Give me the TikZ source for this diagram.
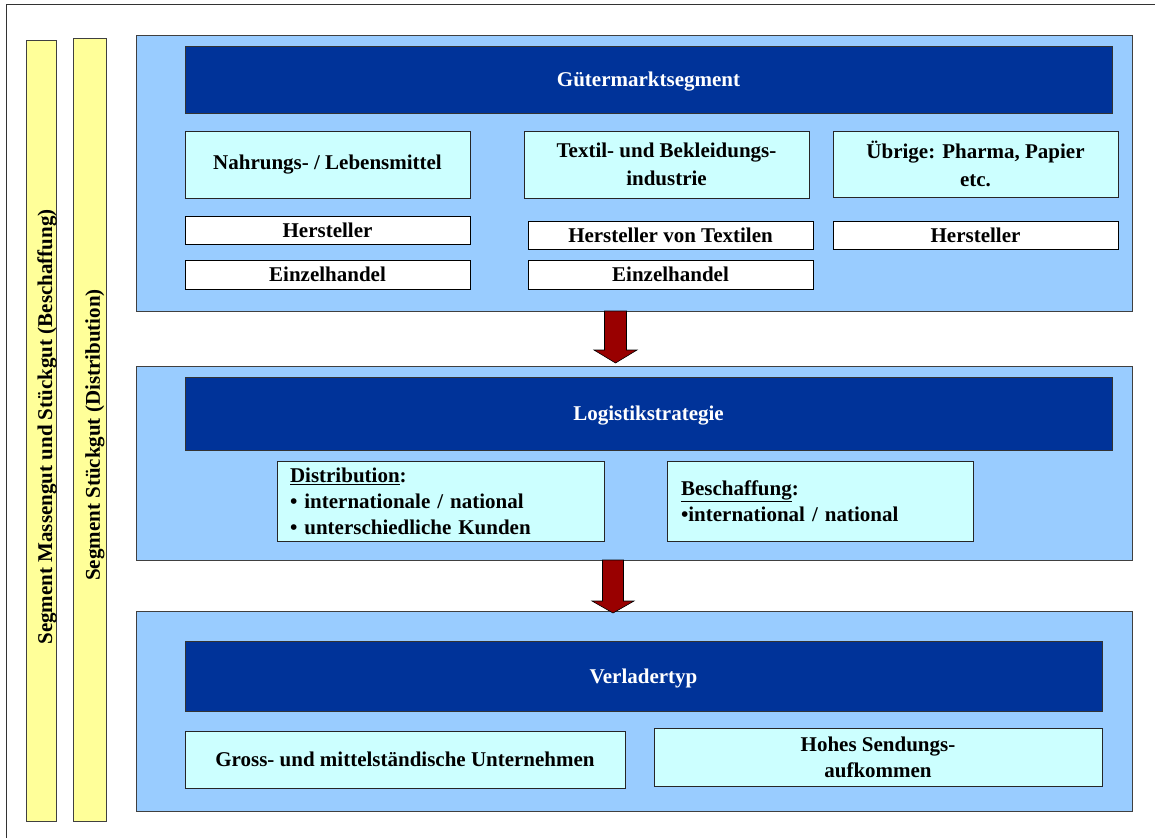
\documentclass[tikz,border=0pt]{standalone}
\usepackage{fontspec}
\setmainfont{Liberation Serif}
\usetikzlibrary{calc}
\definecolor{panelblue}{HTML}{99CCFF}
\definecolor{darkblue}{HTML}{003399}
\definecolor{lightcyan}{HTML}{CCFFFF}
\definecolor{baryellow}{HTML}{FFFF99}
\definecolor{arrowred}{HTML}{990000}
\begin{document}
\begin{tikzpicture}[x=1pt,y=-1pt,
  every node/.style={font=\fontsize{21}{26}\selectfont\bfseries, inner sep=0pt, outer sep=0pt},
  sz/.style 2 args={minimum width=#1pt, minimum height=#2pt},
  wide/.style={font=\fontsize{21}{28}\selectfont\bfseries},
  panel/.style={draw=black!75, line width=1pt, fill=panelblue},
  header/.style={draw=black!80, line width=1pt, fill=darkblue, text=white, text depth=0pt},
  catbox/.style={draw=black!85, line width=0.9pt, fill=lightcyan, align=center},
  whitebox/.style={draw=black, line width=0.9pt, fill=white},
  segbar/.style={draw=black!75, line width=1pt, fill=baryellow},
  arrowfill/.style={draw=black, line width=0.6pt, fill=arrowred, line join=miter}
]
\useasboundingbox (0,0) rectangle (1155,838);
% outer frame
\draw[line width=1pt, black!80] (6,838) -- (6,4) -- (1155,4);

% segment bars
\node[segbar, sz={30}{781}] (bar1) at (41,430.5) {};
\node[segbar, sz={33}{783}] (bar2) at (89.5,429.5) {};
\node[rotate=90] (bar1t) at (47,427) {Segment Massengut und Stückgut (Beschaffung)};
\node[rotate=90] (bar2t) at (95,435) {Segment Stückgut (Distribution)};

% panels
\node[panel, sz={996}{276}] (p1) at (634,173) {};
\node[panel, sz={996}{194}] (p2) at (634,463) {};
\node[panel, sz={996}{200}] (p3) at (634,711) {};

% panel 1
\node[header, sz={927}{67}] (h1) at (648.5,79.5) {Gütermarktsegment};
\node[catbox, sz={285}{67}] (c1) at (327.5,164.5) {Nahrungs- / Lebensmittel};
\node[catbox, wide, sz={285}{67}] (c2) at (666.5,164.5) {Textil- und Bekleidungs-\\industrie};
\node[catbox, wide, sz={285}{66}] (c3) at (975.5,164) {Übrige: Pharma, Papier\\etc.};
\node[whitebox, sz={285}{28}] (w1) at (327.5,230) {Hersteller};
\node[whitebox, sz={285}{29}] (w2) at (327.5,274.5) {Einzelhandel};
\node[whitebox, sz={285}{28}] (w3) at (670.5,235) {Hersteller von Textilen};
\node[whitebox, sz={285}{29}] (w4) at (670.5,274.5) {Einzelhandel};
\node[whitebox, sz={285}{28}] (w5) at (975.5,235) {Hersteller};

% panel 2
\node[header, sz={927}{73}] (h2) at (648.5,413.5) {Logistikstrategie};
\node[catbox, sz={327}{80}, align=left, text width=301pt, inner xsep=13pt] (dist) at (440.5,501)
  {\underline{Distribution}:\\• internationale / national\\• unterschiedliche Kunden};
\node[catbox, sz={306}{80}, align=left, text width=278pt, inner xsep=14pt] (besch) at (820,501)
  {\underline{Beschaffung}:\\•international / national};

% panel 3
\node[header, sz={917}{70}] (h3) at (643.5,676) {Verladertyp};
\node[catbox, sz={440}{57}] (g1) at (405,759.5) {Gross- und mittelständische Unternehmen};
\node[catbox, sz={448}{58}] (g2) at (878,757) {Hohes Sendungs-\\aufkommen};

% block arrows
\coordinate (a1s) at ($(p1.south)+(-18.5,0)$);
\coordinate (a1t) at ($(p2.north)+(-18.5,-3)$);
\coordinate (a2s) at ($(p2.south)+(-21,0)$);
\coordinate (a2t) at ($(p3.north)+(-21,2)$);
\draw[arrowfill] ($(a1s)+(-11,0)$) -- ($(a1t)+(-11,-13)$) -- ($(a1t)+(-21.5,-13)$) -- (a1t)
  -- ($(a1t)+(21.5,-13)$) -- ($(a1t)+(11,-13)$) -- ($(a1s)+(11,0)$) -- cycle;
\draw[arrowfill] ($(a2s)+(-10.5,0)$) -- ($(a2t)+(-10.5,-12)$) -- ($(a2t)+(-21,-12)$) -- (a2t)
  -- ($(a2t)+(21,-12)$) -- ($(a2t)+(10.5,-12)$) -- ($(a2s)+(10.5,0)$) -- cycle;
\end{tikzpicture}
\end{document}
